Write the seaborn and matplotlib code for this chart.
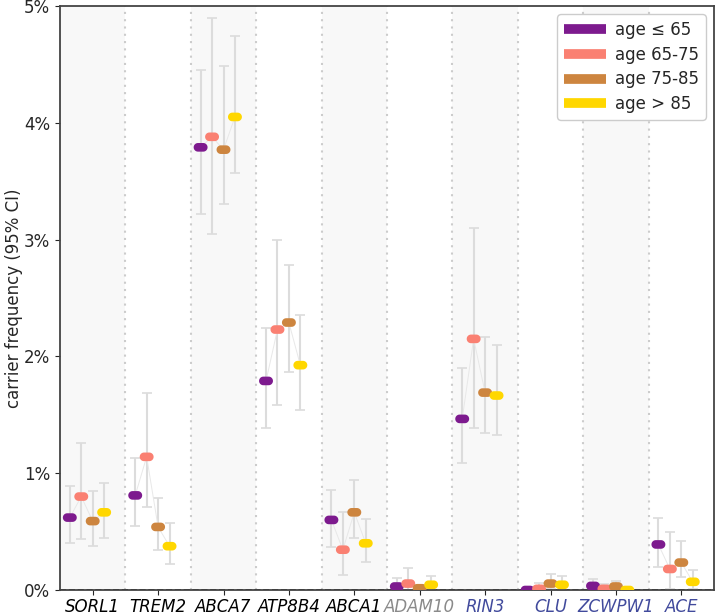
import numpy as np
import pandas as pd
import matplotlib
matplotlib.use("Agg")
import matplotlib.pyplot as plt
from matplotlib.path import Path
from matplotlib.lines import Line2D
from matplotlib.ticker import FuncFormatter
import seaborn as sns

genes = ['SORL1', 'TREM2', 'ABCA7', 'ATP8B4', 'ABCA1', 'ADAM10', 'RIN3', 'CLU', 'ZCWPW1', 'ACE']
gene_colors = ['black'] * 5 + ['#8a8a8a'] + ['#414a9c'] * 4
ages = ['age ≤ 65', 'age 65-75', 'age 75-85', 'age > 85']
age_colors = ['#7d1a8e', '#fa8072', '#cd853f', '#ffd700']

# carrier frequency (%) and 95% CI per age group
freq_65 = [0.62, 0.81, 3.79, 1.79, 0.60, 0.03, 1.465, 0.0, 0.035, 0.39]
lo_65 = [0.40, 0.55, 3.22, 1.39, 0.37, 0.0, 1.09, 0.0, 0.0, 0.20]
hi_65 = [0.89, 1.13, 4.45, 2.24, 0.86, 0.10, 1.90, 0.02, 0.09, 0.62]

freq_75 = [0.80, 1.14, 3.88, 2.23, 0.345, 0.055, 2.15, 0.01, 0.01, 0.18]
lo_75 = [0.44, 0.71, 3.05, 1.585, 0.13, 0.0, 1.39, 0.0, 0.0, 0.01]
hi_75 = [1.26, 1.685, 4.90, 3.0, 0.67, 0.19, 3.10, 0.06, 0.05, 0.50]

freq_85 = [0.59, 0.54, 3.77, 2.29, 0.665, 0.015, 1.69, 0.055, 0.03, 0.235]
lo_85 = [0.38, 0.345, 3.305, 1.865, 0.445, 0.0, 1.34, 0.01, 0.0, 0.11]
hi_85 = [0.85, 0.79, 4.49, 2.78, 0.94, 0.04, 2.17, 0.14, 0.08, 0.42]

freq_90 = [0.665, 0.375, 4.05, 1.925, 0.40, 0.045, 1.665, 0.045, 0.0, 0.07]
lo_90 = [0.445, 0.22, 3.57, 1.545, 0.24, 0.0, 1.33, 0.0, 0.0, 0.01]
hi_90 = [0.92, 0.575, 4.74, 2.355, 0.61, 0.12, 2.10, 0.12, 0.02, 0.17]

yticks = [0, 1, 2, 3, 4, 5]

series = [(freq_65, lo_65, hi_65), (freq_75, lo_75, hi_75),
          (freq_85, lo_85, hi_85), (freq_90, lo_90, hi_90)]
offsets = [-0.35, -0.175, 0.0, 0.175]

rows = []
for a, (age, (f, lo, hi)) in enumerate(zip(ages, series)):
    for g, gene in enumerate(genes):
        rows.append(dict(gene=gene, age=age, xpos=g + offsets[a],
                         freq=f[g], lo=lo[g], hi=hi[g]))
df = pd.DataFrame(rows)

# pill shaped marker
t = np.linspace(-np.pi / 2, np.pi / 2, 20)
r = 0.31
right = np.column_stack([0.19 + r * np.cos(t), r * np.sin(t)])
left = np.column_stack([-0.19 - r * np.cos(t), -r * np.sin(t)])
verts = np.vstack([right, left, right[:1]])
pill = Path(verts, closed=True)

sns.set_style("ticks")
plt.rcParams['font.family'] = ['DejaVu Sans']
fig = plt.figure(figsize=(7.16, 6.15), dpi=100)
ax = fig.add_axes([60 / 716, 1 - 590 / 615, 654 / 716, 584 / 615])

for i in range(len(genes)):
    if i % 2 == 0:
        ax.axvspan(i - 0.5, i + 0.5, color='#f8f8f8', zorder=0, lw=0)
    if i < len(genes) - 1:
        ax.axvline(i + 0.5, color='#cccccc', ls=(0, (1, 2.5)), lw=1.5, zorder=0.5)

ax.axhline(0, color='black', ls='--', lw=1.2, zorder=1)

for age in ages:
    d = df[df.age == age]
    ax.errorbar(d.xpos, d.freq, yerr=[d.freq - d.lo, d.hi - d.freq],
                fmt='none', ecolor='#dcdcdc', elinewidth=1.5, capsize=3.3,
                capthick=1.2, zorder=2)

sns.lineplot(data=df, x='xpos', y='freq', units='gene', estimator=None,
             color='#e8e8e8', lw=0.7, ax=ax, zorder=2.5, legend=False)
sns.scatterplot(data=df, x='xpos', y='freq', hue='age', hue_order=ages,
                palette=age_colors, marker=pill, s=100, linewidth=0,
                ax=ax, zorder=3, legend=False, clip_on=True)

ax.set_xlim(-0.5, len(genes) - 0.5)
ax.set_ylim(0, 5)
ax.set_xticks(range(len(genes)))
ax.set_xticklabels(genes, fontsize=12, style='italic')
for lbl, c in zip(ax.get_xticklabels(), gene_colors):
    lbl.set_color(c)
ax.set_yticks(yticks)
ax.yaxis.set_major_formatter(FuncFormatter(lambda v, p: f'{v:.0f}%'))
ax.tick_params(axis='y', labelsize=12)
ax.tick_params(axis='x', pad=2)
ax.set_xlabel('')
ax.set_ylabel('carrier frequency (95% CI)', fontsize=12, labelpad=1)
for sp in ax.spines.values():
    sp.set_color('#444444')
    sp.set_linewidth(1.3)

handles = [Line2D([0], [0], color=c, lw=7, solid_capstyle='butt') for c in age_colors]
ax.legend(handles, ages, loc='upper right', fontsize=12, handlelength=2.5,
          handletextpad=0.55, labelspacing=0.4, framealpha=1,
          borderaxespad=0.5)

fig.savefig('out.png', dpi=100)
